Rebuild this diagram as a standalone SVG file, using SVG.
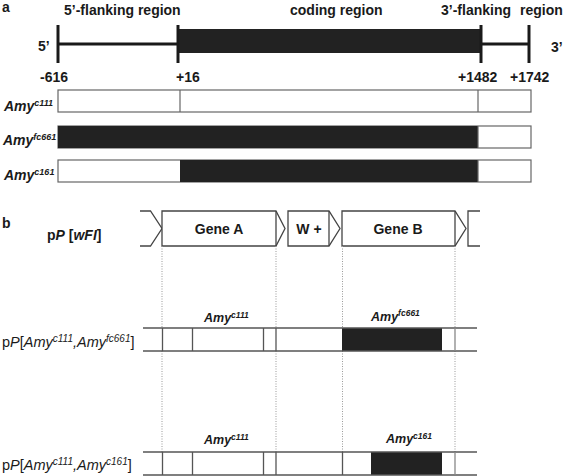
<svg xmlns="http://www.w3.org/2000/svg" width="564" height="476" viewBox="0 0 564 476">
<style>
text{font-family:"Liberation Sans",Arial,sans-serif;fill:#1a1a1a}
.b{font-weight:bold}
.h{font-size:14px;font-weight:bold}
.lab{font-size:14px;font-weight:bold;font-style:italic}
.sup{font-size:9px}
.lab2{font-size:12.5px;font-weight:bold;font-style:italic}
.sup2{font-size:8.5px}
.rl{font-size:14.5px}
.tick{stroke:#1a1a1a;stroke-width:3;fill:none}
.bar{stroke:#666;stroke-width:1.2}
.blk{fill:#222}
.wht{fill:#fff}
.cons{fill:#fff;stroke:#444;stroke-width:1.3}
.dot{stroke:#999;stroke-width:1;stroke-dasharray:1 1.5;fill:none}
.row{stroke:#555;stroke-width:1.3;fill:none}
</style>

<!-- Panel a -->
<text class="h" x="2" y="11.5" font-size="15">a</text>
<g id="a-headers">
<text class="h" x="64" y="14.5">5’-flanking region</text>
<text class="h" x="290" y="14.5">coding region</text>
<text class="h" x="441" y="14.5">3’-flanking</text>
<text class="h" x="520" y="14.5">region</text>
</g>
<g id="a-map">
<line class="tick" x1="58" y1="44" x2="178" y2="44"/>
<line class="tick" x1="481" y1="44" x2="529" y2="44"/>
<rect class="blk" x="178" y="29" width="303" height="24"/>
<line class="tick" x1="58" y1="25" x2="58" y2="63"/>
<line class="tick" x1="178" y1="25" x2="178" y2="63"/>
<line class="tick" x1="481" y1="25" x2="481" y2="63"/>
<line class="tick" x1="529" y1="25" x2="529" y2="63"/>
<text class="h" x="38" y="51">5’</text>
<text class="h" x="551" y="52">3’</text>
<text class="h" x="40" y="82">-616</text>
<text class="h" x="176" y="82">+16</text>
<text class="h" x="458" y="82">+1482</text>
<text class="h" x="510" y="82">+1742</text>
</g>
<g id="a-c111">
<rect class="bar wht" x="58" y="90" width="473" height="22"/>
<line class="bar" x1="180" y1="90" x2="180" y2="112"/>
<line class="bar" x1="478" y1="90" x2="478" y2="112"/>
<text class="lab" x="4" y="111">Amy<tspan class="sup" dy="-5">c111</tspan></text>
</g>
<g id="a-fc661">
<rect class="bar wht" x="58" y="126" width="473" height="22"/>
<rect class="blk" x="58" y="126" width="420" height="22"/>
<line class="bar" x1="478" y1="126" x2="478" y2="148"/>
<text class="lab" x="3" y="145">Amy<tspan class="sup" dy="-5">fc661</tspan></text>
</g>
<g id="a-c161">
<rect class="bar wht" x="58" y="160" width="473" height="22"/>
<rect class="blk" x="180" y="160" width="298" height="22"/>
<line class="bar" x1="478" y1="160" x2="478" y2="182"/>
<text class="lab" x="4" y="180">Amy<tspan class="sup" dy="-5">c161</tspan></text>
</g>

<!-- Panel b -->
<text class="h" x="2" y="228" font-size="16">b</text>
<g id="b-construct">
<text class="b" x="47" y="239.5" font-size="14">p<tspan font-style="italic">P</tspan> [<tspan font-style="italic">wFI</tspan>]</text>
<polyline class="cons" points="140,211 150.5,211 162,228.5 150.5,246 140,246" style="fill:none"/>
<g id="geneA">
<path class="cons" d="M162,211 H276 L285,228.5 L276,246 H162 Z"/>
<line class="cons" x1="276" y1="211" x2="276" y2="246"/>
<text class="h" x="219" y="234" text-anchor="middle">Gene A</text>
</g>
<g id="wplus">
<path class="cons" d="M288,211 H329 L340,228.5 L329,246 H288 Z"/>
<line class="cons" x1="329" y1="211" x2="329" y2="246"/>
<text class="h" x="309" y="234" text-anchor="middle">W +</text>
</g>
<g id="geneB">
<path class="cons" d="M342,211 H455 L466,228.5 L455,246 H342 Z"/>
<line class="cons" x1="455" y1="211" x2="455" y2="246"/>
<text class="h" x="398" y="234" text-anchor="middle">Gene B</text>
</g>
<polyline class="cons" points="480,211 468,211 468,246 480,246" style="fill:none"/>
</g>
<g id="connectors">
<line class="dot" x1="162" y1="246" x2="162" y2="452"/>
<line class="dot" x1="276" y1="246" x2="276" y2="452"/>
<line class="dot" x1="342.5" y1="246" x2="342.5" y2="452"/>
<line class="dot" x1="455" y1="246" x2="455" y2="452"/>
</g>
<g id="b-row1">
<rect class="wht" x="143" y="328" width="334" height="23"/>
<rect class="blk" x="342" y="328" width="100" height="23"/>
<line class="row" x1="143" y1="328" x2="477" y2="328"/>
<line class="row" x1="143" y1="351" x2="477" y2="351"/>
<line class="row" x1="162.5" y1="328" x2="162.5" y2="351"/>
<line class="row" x1="192.5" y1="328" x2="192.5" y2="351"/>
<line class="row" x1="263.5" y1="328" x2="263.5" y2="351"/>
<line class="row" x1="276" y1="328" x2="276" y2="351"/>
<line class="row" x1="455" y1="328" x2="455" y2="351" style="stroke:#888"/>
<text class="rl" x="2" y="347">p<tspan font-style="italic">P</tspan>[<tspan font-style="italic">Amy<tspan font-size="10" dy="-5">c111</tspan><tspan dy="5">,Amy</tspan><tspan font-size="10" dy="-5">fc661</tspan></tspan><tspan dy="5">]</tspan></text>
<text class="lab2" x="204" y="322">Amy<tspan class="sup2" dy="-4.5">c111</tspan></text>
<text class="lab2" x="371" y="320.5">Amy<tspan class="sup2" dy="-4.5">fc661</tspan></text>
</g>
<g id="b-row2">
<rect class="wht" x="143" y="452" width="334" height="23"/>
<rect class="blk" x="371" y="452" width="71" height="23"/>
<line class="row" x1="143" y1="452" x2="477" y2="452"/>
<line class="row" x1="143" y1="475" x2="477" y2="475"/>
<line class="row" x1="162.5" y1="452" x2="162.5" y2="475"/>
<line class="row" x1="192.5" y1="452" x2="192.5" y2="475"/>
<line class="row" x1="263.5" y1="452" x2="263.5" y2="475"/>
<line class="row" x1="276" y1="452" x2="276" y2="475"/>
<line class="row" x1="342.5" y1="452" x2="342.5" y2="475"/>
<line class="row" x1="455" y1="452" x2="455" y2="475" style="stroke:#888"/>
<text class="rl" x="2" y="470">p<tspan font-style="italic">P</tspan>[<tspan font-style="italic">Amy<tspan font-size="10" dy="-5">c111</tspan><tspan dy="5">,Amy</tspan><tspan font-size="10" dy="-5">c161</tspan></tspan><tspan dy="5">]</tspan></text>
<text class="lab2" x="204" y="444">Amy<tspan class="sup2" dy="-4.5">c111</tspan></text>
<text class="lab2" x="386" y="443">Amy<tspan class="sup2" dy="-4.5">c161</tspan></text>
</g>
</svg>
